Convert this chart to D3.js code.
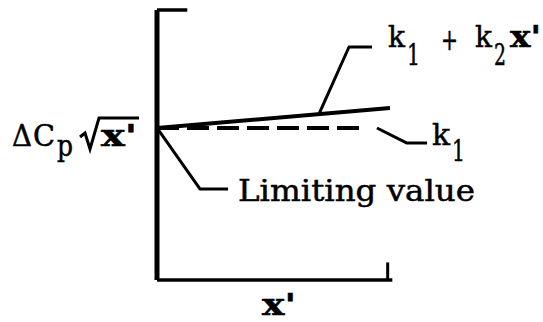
<!DOCTYPE html>
<html>
<head>
<meta charset="utf-8">
<title>Limiting value sketch | D3</title>
<style>
  body { margin: 0; background: #fff; }
  text { font-family: "DejaVu Serif", serif; fill: #000; stroke: #000; stroke-width: 0.5px; }
</style>
<script src="https://d3js.org/d3.v7.min.js"></script>
</head>
<body>
<script>
// chart values in sketch units: x' runs 0..1, the ordinate 0..10
var xDomain = [0, 1];
var yDomain = [0, 10];
var k1 = 5.63;
var k2 = 0.74;
var axisX = [0, 1.01];          // bottom axis extent
var topBarX = [0, 0.13];        // little bar on top of the ordinate
var tickX = 0.99, tickTop = 0.65;
var solidX = [0, 1.0];          // k1 + k2 x'
var dashedX = [0, 0.88];        // k1

// leader lines, [x', y] in the same units
var leaderSum = [[0.695, 6.14], [0.824, 8.63], [0.923, 8.63]];
var leaderK1 = [[0.944, 5.63], [1.073, 5.07], [1.159, 5.07]];
var leaderLim = [[0, 5.63], [0.185, 3.37], [0.305, 3.37]];

var width = 543, height = 322;

var svg = d3.select("body").append("svg")
    .attr("width", width)
    .attr("height", height);

var x = d3.scaleLinear().domain(xDomain).range([157, 390]);
var y = d3.scaleLinear().domain(yDomain).range([280, 10]);

var line = d3.line()
    .x(function(d) { return x(d[0]); })
    .y(function(d) { return y(d[1]); });

var g = svg.append("g").attr("fill", "none").attr("stroke", "#000");

// axes
g.append("path")
    .attr("stroke-width", 5)
    .attr("d", line([[0, yDomain[1]], [0, 0]]));
g.append("path")
    .attr("stroke-width", 3.5)
    .attr("d", line([[0, 0], [axisX[1], 0]]));
g.append("path")
    .attr("stroke-width", 3.5)
    .attr("d", line([[topBarX[0], yDomain[1]], [topBarX[1], yDomain[1]]]));
g.append("path")
    .attr("stroke-width", 3)
    .attr("d", line([[tickX, 0], [tickX, tickTop]]));

// the two curves
g.append("path")
    .attr("stroke-width", 4)
    .attr("d", line(solidX.map(function(v) { return [v, k1 + k2 * v]; })));
g.append("path")
    .attr("stroke-width", 4)
    .attr("stroke-dasharray", "22,8")
    .attr("d", line(dashedX.map(function(v) { return [v, k1]; })));

// leaders
[leaderSum, leaderK1, leaderLim].forEach(function(pts) {
    g.append("path")
        .attr("stroke-width", 3)
        .attr("stroke-linejoin", "round")
        .attr("d", line(pts));
});

// labels, each piece placed and squeezed to the width it has in the sketch
var fs = 29;
function put(str, px, py, len, bold) {
    var t = svg.append("text")
        .attr("x", px).attr("y", py)
        .attr("font-size", fs)
        .attr("textLength", len)
        .attr("lengthAdjust", "spacingAndGlyphs")
        .text(str);
    if (bold) t.attr("font-weight", "bold");
    return t;
}

// k1 + k2 x'
put("k", 388, 47, 17);
put("1", 407, 65, 13);
put("+", 441, 50, 17);
put("k", 475, 47, 17);
put("2", 494, 65, 12);
put("x'", 510, 47, 31, true);

// k1
put("k", 432, 145, 18);
put("1", 452, 161, 13);

// limiting value
put("Limiting value", 238, 201, 237);

// abscissa label
put("x'", 262, 315, 34, true);

// ordinate label: delta Cp sqrt(x')
put("\u0394", 12, 146, 20);
put("C", 33, 146, 22);
put("p", 57, 156, 16);
svg.append("path")
    .attr("fill", "none").attr("stroke", "#000")
    .attr("stroke-width", 3).attr("stroke-linejoin", "miter")
    .attr("d", "M80,137 L85,133 L90,149 L99,118 L139,118");
put("x'", 101, 146, 36, true);
</script>
</body>
</html>
